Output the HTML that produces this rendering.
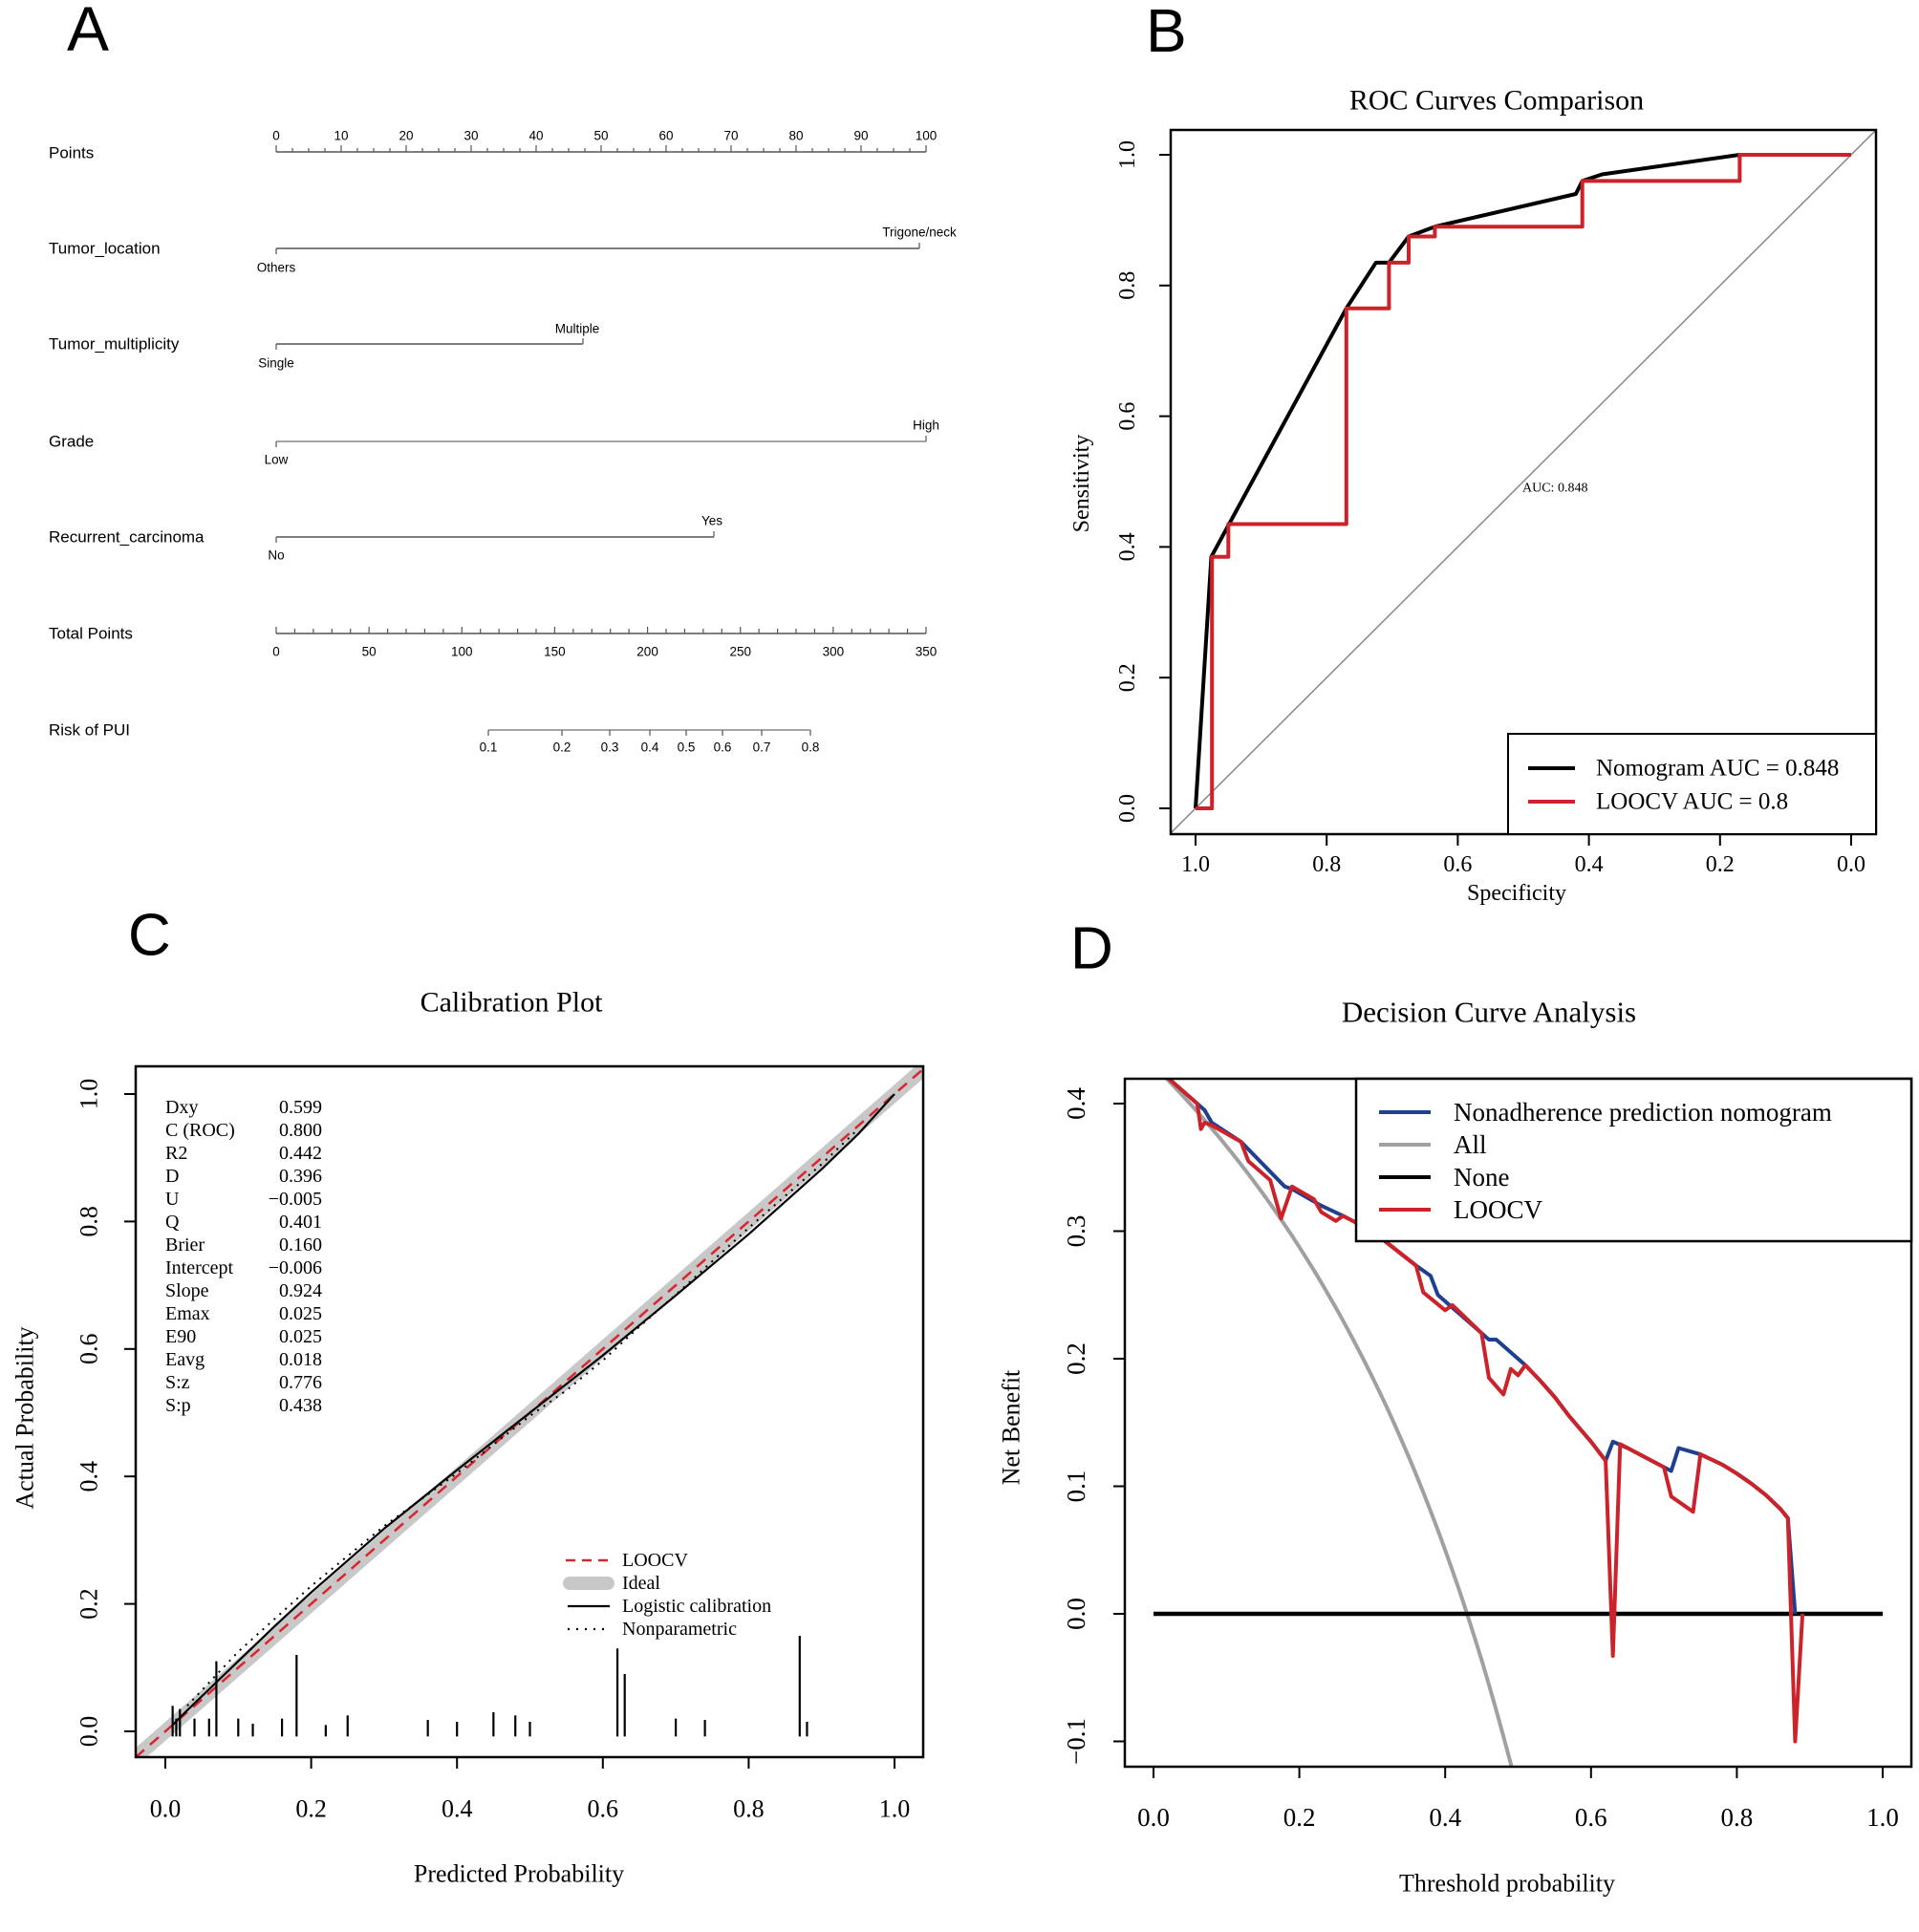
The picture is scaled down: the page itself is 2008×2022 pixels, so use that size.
<!DOCTYPE html>
<html><head><meta charset="utf-8"><style>
html,body{margin:0;padding:0;background:#fff;}
svg{display:block;}
.sans{font-family:"Liberation Sans",sans-serif;}
.serif{font-family:"Liberation Serif",serif;}
</style></head><body>
<svg id="s" width="2008" height="2022" viewBox="0 0 2008 2022" xmlns="http://www.w3.org/2000/svg">
<rect width="2008" height="2022" fill="#fff"/>
<g id="g"></g>
</svg>
<script>
var out=[];
function L(x1,y1,x2,y2,c,w,extra){out.push('<line x1="'+x1+'" y1="'+y1+'" x2="'+x2+'" y2="'+y2+'" stroke="'+(c||'#000')+'" stroke-width="'+(w||1)+'" '+(extra||'')+'/>');}
function T(x,y,s,size,cls,anchor,extra){out.push('<text x="'+x+'" y="'+y+'" font-size="'+size+'" class="'+cls+'" text-anchor="'+(anchor||'start')+'" dominant-baseline="central" '+(extra||'')+'>'+s+'</text>');}
function P(pts,c,w,extra){out.push('<polyline fill="none" stroke="'+c+'" stroke-width="'+w+'" stroke-linejoin="round" points="'+pts.map(function(p){return p[0].toFixed(1)+','+p[1].toFixed(1);}).join(' ')+'" '+(extra||'')+'/>');}
function R(x,y,w,h,sw){out.push('<rect x="'+x+'" y="'+y+'" width="'+w+'" height="'+h+'" fill="none" stroke="#000" stroke-width="'+(sw||2)+'"/>');}

/* ---------- Panel A ---------- */
T(70,30,'A',66,'sans');
var ax0=289,ax1=969,lc='#555';
function apx(v,max){return ax0+(ax1-ax0)*v/max;}
var fsL=17,fsT=13.5;
T(51,160,'Points',fsL,'sans');
L(ax0,159,ax1,159,lc,1.5);
for(var v=0;v<=100;v+=2.5){var x=apx(v,100);L(x,159,x,v%10==0?152:155,lc,1.2);}
for(var v=0;v<=100;v+=10){T(apx(v,100),142,v,fsT,'sans','middle');}
T(51,260,'Tumor_location',fsL,'sans');L(ax0,260,962,260,lc,1.5);L(ax0,260,ax0,266,lc,1.2);L(962,260,962,254,lc,1.2);
T(289,280,'Others',fsT,'sans','middle');T(962,243,'Trigone/neck',fsT,'sans','middle');
T(51,360,'Tumor_multiplicity',fsL,'sans');L(ax0,360,610,360,lc,1.5);L(ax0,360,ax0,366,lc,1.2);L(610,360,610,354,lc,1.2);
T(289,380,'Single',fsT,'sans','middle');T(604,344,'Multiple',fsT,'sans','middle');
T(51,462,'Grade',fsL,'sans');L(ax0,462,969,462,'#888',1.5);L(ax0,462,ax0,468,lc,1.2);L(969,462,969,456,lc,1.2);
T(289,481,'Low',fsT,'sans','middle');T(969,445,'High',fsT,'sans','middle');
T(51,562,'Recurrent_carcinoma',fsL,'sans');L(ax0,562,747,562,lc,1.5);L(ax0,562,ax0,568,lc,1.2);L(747,562,747,556,lc,1.2);
T(289,581,'No',fsT,'sans','middle');T(745,545,'Yes',fsT,'sans','middle');
T(51,663,'Total Points',fsL,'sans');L(ax0,663,ax1,663,lc,1.5);
for(var v=0;v<=350;v+=10){var x=apx(v,350);L(x,663,x,v%50==0?656:658,lc,1.2);}
for(var v=0;v<=350;v+=50){T(apx(v,350),682,v,fsT,'sans','middle');}
T(51,764,'Risk of PUI',fsL,'sans');L(511,764,848,764,'#888',1.5);
var rk=[[0.1,511],[0.2,588],[0.3,638],[0.4,680],[0.5,718],[0.6,756],[0.7,797],[0.8,848]];
rk.forEach(function(r){L(r[1],764,r[1],770,lc,1.2);T(r[1],782,r[0],fsT,'sans','middle');});

/* ---------- Panel B ---------- */
T(1199,32,'B',64,'sans');
T(1566,105,'ROC Curves Comparison',30,'serif','middle');
function bx(s){return 1937-s*686;} function by(s){return 846-s*684;}
out.push('<clipPath id="cb"><rect x="1225" y="136" width="738" height="737"/></clipPath>');
L(bx(1.038),by(-0.038),bx(-0.06),by(1.06),'#888',1.5,'clip-path="url(#cb)"');
var red=[[1,0],[0.975,0],[0.975,0.385],[0.95,0.385],[0.95,0.435],[0.77,0.435],[0.77,0.765],[0.705,0.765],[0.705,0.835],[0.675,0.835],[0.675,0.875],[0.635,0.875],[0.635,0.89],[0.41,0.89],[0.41,0.96],[0.17,0.96],[0.17,1],[0,1]];
var blk=[[1,0],[0.976,0.385],[0.77,0.765],[0.725,0.835],[0.705,0.835],[0.675,0.875],[0.635,0.89],[0.42,0.94],[0.41,0.96],[0.38,0.97],[0.17,1.0],[0,1]];
P(blk.map(function(p){return [bx(p[0]),by(p[1])];}),'#000',4);
P(red.map(function(p){return [bx(p[0]),by(p[1])];}),'#cc2229',4);
R(1225,136,738,737,2.5);
for(var i=0;i<=5;i++){var s=i*0.2;var x=bx(s);L(x,873,x,885,'#000',2);T(x,905,s.toFixed(1),24,'serif','middle');
 var y=by(s);L(1225,y,1213,y,'#000',2);T(1180,y,s.toFixed(1),24,'serif','middle','transform="rotate(-90 1180 '+y+')"');}
T(1587,935,'Specificity',24,'serif','middle');
T(1132,506,'Sensitivity',24,'serif','middle','transform="rotate(-90 1132 506)"');
T(1593,511,'AUC: 0.848',14,'serif','start');
out.push('<rect x="1578" y="768" width="385" height="105" fill="#fff" stroke="#000" stroke-width="2"/>');
L(1599,804,1648,804,'#000',4);T(1670,804,'Nomogram AUC = 0.848',25,'serif');
L(1599,839,1648,839,'#cc2229',4);T(1670,839,'LOOCV AUC = 0.8',25,'serif');

/* ---------- Panel C ---------- */
T(134,979,'C',62,'sans');
T(535,1049,'Calibration Plot',30,'serif','middle');
function cx(p){return 173+p*763;} function cy(p){return 1812-p*667;}
out.push('<clipPath id="cc"><rect x="142" y="1116" width="824" height="723"/></clipPath>');
out.push('<g clip-path="url(#cc)">');
L(cx(-0.1),cy(-0.1),cx(1.1),cy(1.1),'#c8c8c8',15);
L(cx(-0.1),cy(-0.1),cx(1.1),cy(1.1),'#d9262e',2.5,'stroke-dasharray="12 8"');
var lg=[[0.01,0.01],[0.03,0.033],[0.06,0.066],[0.1,0.11],[0.15,0.165],[0.2,0.218],[0.3,0.318],[0.4,0.41],[0.5,0.5],[0.6,0.59],[0.7,0.684],[0.8,0.78],[0.9,0.882],[0.95,0.937],[1,1]];
P(lg.map(function(p){return [cx(p[0]),cy(p[1])];}),'#000',2.2);
var np=[[0.03,0.04],[0.1,0.125],[0.2,0.228],[0.3,0.322],[0.4,0.405],[0.45,0.45],[0.5,0.495],[0.55,0.535],[0.6,0.582],[0.65,0.635],[0.7,0.685],[0.8,0.79],[0.9,0.89],[0.95,0.945]];
P(np.map(function(p){return [cx(p[0]),cy(p[1])];}),'#000',2,'stroke-dasharray="2 6"');
out.push('</g>');
var rug=[[0.01,0.04],[0.015,0.02],[0.02,0.035],[0.04,0.02],[0.06,0.02],[0.07,0.11],[0.10,0.02],[0.12,0.012],[0.16,0.02],[0.18,0.12],[0.22,0.01],[0.25,0.025],[0.36,0.018],[0.40,0.015],[0.45,0.03],[0.48,0.025],[0.50,0.015],[0.62,0.13],[0.63,0.09],[0.70,0.02],[0.74,0.018],[0.87,0.15],[0.88,0.015]];
rug.forEach(function(r){L(cx(r[0]),cy(-0.008),cx(r[0]),cy(r[1]),'#000',2.2);});
R(142,1116,824,723,2.5);
for(var i=0;i<=5;i++){var s=i*0.2;var x=cx(s);L(x,1839,x,1851,'#000',2);T(x,1893,s.toFixed(1),26,'serif','middle');
 var y=cy(s);L(142,y,130,y,'#000',2);T(93,y,s.toFixed(1),26,'serif','middle','transform="rotate(-90 93 '+y+')"');}
T(543,1961,'Predicted Probability',26,'serif','middle');
T(26,1484,'Actual Probability',26,'serif','middle','transform="rotate(-90 26 1484)"');
var st=[['Dxy','0.599'],['C (ROC)','0.800'],['R2','0.442'],['D','0.396'],['U','\u22120.005'],['Q','0.401'],['Brier','0.160'],['Intercept','\u22120.006'],['Slope','0.924'],['Emax','0.025'],['E90','0.025'],['Eavg','0.018'],['S:z','0.776'],['S:p','0.438']];
st.forEach(function(r,i){var y=1159+i*24;T(173,y,r[0],20,'serif');T(337,y,r[1],20,'serif','end');});
L(592,1633,640,1633,'#d9262e',2.5,'stroke-dasharray="10 7"');T(651,1633,'LOOCV',20,'serif');
L(596,1657,636,1657,'#c8c8c8',14,'stroke-linecap="round"');T(651,1657,'Ideal',20,'serif');
L(594,1681,638,1681,'#000',2.2);T(651,1681,'Logistic calibration',20,'serif');
L(594,1705,638,1705,'#000',2.2,'stroke-dasharray="2 7"');T(651,1705,'Nonparametric',20,'serif');

/* ---------- Panel D ---------- */
T(1120,993,'D',62,'sans');
T(1558,1059,'Decision Curve Analysis',31,'serif','middle');
function dx(t){return 1207+t*763;} function dy(v){return 1689-v*1335;}
out.push('<clipPath id="cd"><rect x="1177" y="1129" width="823" height="720"/></clipPath>');
out.push('<g clip-path="url(#cd)">');
var all=[];for(var t=0;t<=0.52;t+=0.01){all.push([dx(t),dy(0.43-0.57*t/(1-t))]);}
P(all,'#a0a0a0',4);
L(dx(0),dy(0),dx(1),dy(0),'#000',4.5);
var mod=[[0.02,0.42],[0.07,0.395],[0.08,0.385],[0.12,0.37],[0.18,0.335],[0.19,0.333],[0.23,0.32],[0.26,0.312],[0.3,0.3],[0.36,0.273],[0.38,0.265],[0.39,0.25],[0.41,0.24],[0.45,0.22],[0.46,0.215],[0.47,0.215],[0.51,0.195],[0.53,0.183],[0.55,0.17],[0.57,0.155],[0.6,0.135],[0.62,0.12],[0.63,0.135],[0.65,0.13],[0.71,0.112],[0.72,0.13],[0.75,0.125],[0.78,0.117],[0.8,0.11],[0.82,0.102],[0.84,0.093],[0.86,0.082],[0.87,0.075],[0.88,0.0]];
P(mod.map(function(p){return [dx(p[0]),dy(p[1])];}),'#1f3f8f',4);
var loo=[[0.02,0.42],[0.06,0.4],[0.065,0.38],[0.07,0.385],[0.08,0.383],[0.12,0.37],[0.13,0.355],[0.16,0.34],[0.175,0.31],[0.19,0.335],[0.22,0.325],[0.23,0.315],[0.25,0.308],[0.26,0.312],[0.3,0.3],[0.36,0.273],[0.37,0.252],[0.4,0.238],[0.41,0.242],[0.45,0.22],[0.46,0.185],[0.48,0.172],[0.49,0.192],[0.5,0.187],[0.51,0.195],[0.53,0.183],[0.55,0.17],[0.57,0.155],[0.6,0.135],[0.62,0.12],[0.63,-0.033],[0.64,0.133],[0.7,0.115],[0.71,0.092],[0.74,0.08],[0.75,0.125],[0.78,0.117],[0.8,0.11],[0.82,0.102],[0.84,0.093],[0.86,0.082],[0.87,0.075],[0.88,-0.1],[0.89,0.0]];
P(loo.map(function(p){return [dx(p[0]),dy(p[1])];}),'#cc2229',4);
out.push('</g>');
R(1177,1129,823,720,2.5);
for(var i=0;i<=5;i++){var s=i*0.2;var x=dx(s);L(x,1849,x,1861,'#000',2);T(x,1902,s.toFixed(1),27,'serif','middle');}
[-0.1,0,0.1,0.2,0.3,0.4].forEach(function(v){var y=dy(v);L(1177,y,1165,y,'#000',2);var s=(v<0?'\u2212':'')+Math.abs(v).toFixed(1);T(1126,y,s,27,'serif','middle','transform="rotate(-90 1126 '+y+')"');});
T(1577,1971,'Threshold probability',26,'serif','middle');
T(1058,1494,'Net Benefit',26,'serif','middle','transform="rotate(-90 1058 1494)"');
out.push('<rect x="1419" y="1129" width="581" height="170" fill="#fff" stroke="#000" stroke-width="2.5"/>');
L(1443,1164,1497,1164,'#1f3f8f',4);T(1521,1164,'Nonadherence prediction nomogram',27,'serif');
L(1443,1198,1497,1198,'#a0a0a0',4);T(1521,1198,'All',27,'serif');
L(1443,1232,1497,1232,'#000',4);T(1521,1232,'None',27,'serif');
L(1443,1266,1497,1266,'#cc2229',4);T(1521,1266,'LOOCV',27,'serif');

document.getElementById('g').innerHTML=out.join('');
</script>
</body></html>
